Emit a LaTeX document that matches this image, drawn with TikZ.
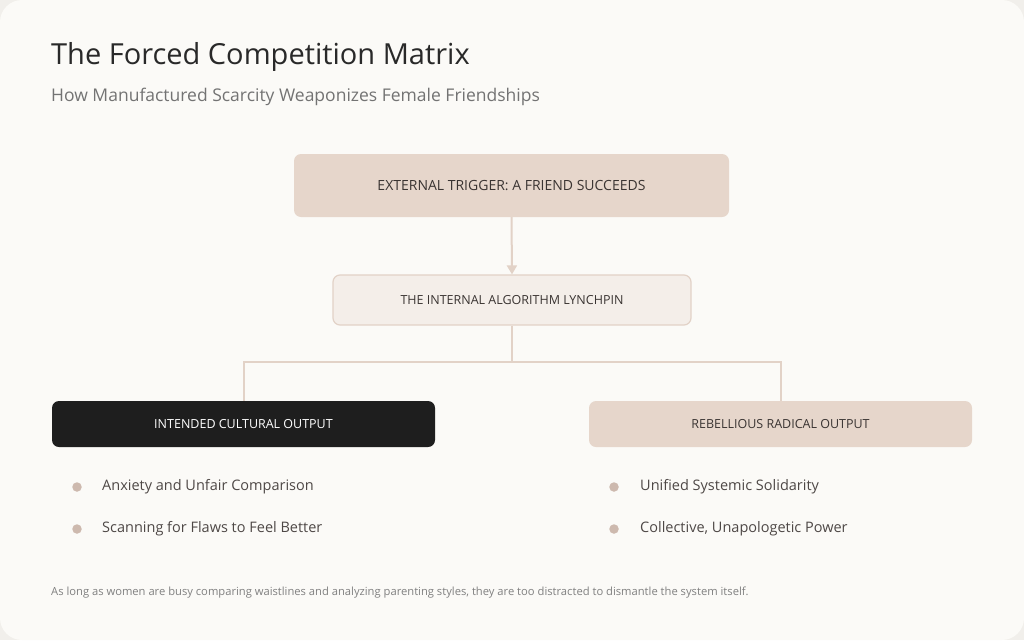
\documentclass[tikz,border=0pt]{standalone}
\usepackage{fontspec}
\setmainfont{Open Sans}
\usetikzlibrary{arrows.meta}
\definecolor{bgout}{HTML}{F1EFEB}
\definecolor{card}{HTML}{FBFAF7}
\definecolor{tan}{HTML}{E6D6CB}
\definecolor{tanline}{HTML}{E2D2C7}
\definecolor{pale}{HTML}{F4EEE9}
\definecolor{dark}{HTML}{1E1E1E}
\definecolor{txt}{HTML}{3A3432}
\definecolor{dot}{HTML}{CDB9AE}
\begin{document}
\begin{tikzpicture}[x=1pt,y=-1pt,
  box/.style={rounded corners=7pt,minimum height=#1,inner sep=0pt,text=txt,font=\fontsize{12.5}{14}\selectfont},
  bullet/.style={circle,fill=dot,minimum size=9.5pt,inner sep=0pt},
  item/.style={anchor=west,text=txt!90,font=\fontsize{14.5}{17}\selectfont,inner sep=0pt},
  conn/.style={draw=tanline,line width=2pt}]
\useasboundingbox (0,0) rectangle (1024,640);
\fill[bgout] (0,0) rectangle (1024,640);
\fill[card,rounded corners=22pt] (0,0) rectangle (1024,640);
\node[anchor=west,inner sep=0pt,text=dark!95,font=\fontsize{29}{34}\selectfont] (title) at (51,57) {The Forced Competition Matrix};
\node[anchor=west,inner sep=0pt,text=black!55,font=\fontsize{17.5}{21}\selectfont] (sub) at (51,97) {How Manufactured Scarcity Weaponizes Female Friendships};
\node[box=63pt,minimum width=435pt,fill=tan,font=\fontsize{14}{16}\selectfont] (trig) at (511.5,185.5) {EXTERNAL TRIGGER: A FRIEND SUCCEEDS};
\node[box=50pt,minimum width=358pt,fill=pale,draw=tanline,line width=1.2pt] (alg) at (512,300) {THE INTERNAL ALGORITHM LYNCHPIN};
\node[box=46pt,minimum width=383pt,fill=dark,text=white] (left) at (243.5,424) {INTENDED CULTURAL OUTPUT};
\node[box=46pt,minimum width=383pt,fill=tan] (right) at (780.5,424) {REBELLIOUS RADICAL OUTPUT};
\draw[conn,-{Triangle[length=9pt,width=10pt]}] (trig.south) -- (alg.north);
\coordinate (j) at (512,362);
\draw[conn] (alg.south) -- (j);
\draw[conn] (left.north) |- (j) -| (right.north);
\node[bullet] (b1) at (77,487) {}; \node[item] (t1) at (102,487) {Anxiety and Unfair Comparison};
\node[bullet] (b2) at (77,529) {}; \node[item] (t2) at (102,529) {Scanning for Flaws to Feel Better};
\node[bullet] (b3) at (614,487) {}; \node[item] (t3) at (640,487) {Unified Systemic Solidarity};
\node[bullet] (b4) at (614,529) {}; \node[item] (t4) at (640,529) {Collective, Unapologetic Power};
\node[anchor=west,inner sep=0pt,text=black!50,font=\fontsize{11.2}{13}\selectfont] (foot) at (51,593) {As long as women are busy comparing waistlines and analyzing parenting styles, they are too distracted to dismantle the system itself.};
\end{tikzpicture}
\end{document}
